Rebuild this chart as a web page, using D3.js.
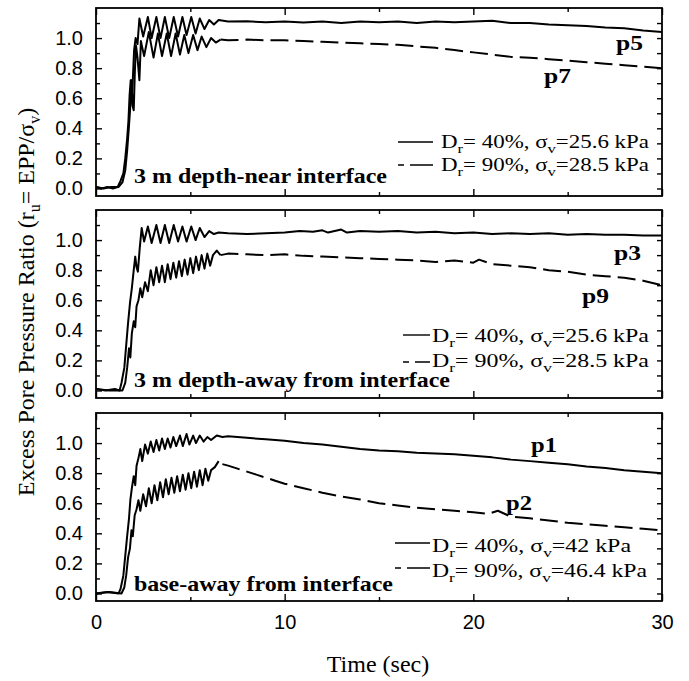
<!DOCTYPE html>
<html>
<head>
<meta charset="utf-8">
<script src="https://cdn.jsdelivr.net/npm/d3@7"></script>
<style>
  body { margin: 0; background: #fff; }
  svg { display: block; }
  .tick text { font-family: "Liberation Sans", Arial, sans-serif; font-size: 20px; fill: #000; }
  .tick line { stroke: #000; stroke-width: 1.4; }
</style>
</head>
<body>
<svg id="chart" width="689" height="681"></svg>
<script>
// time axis / ratio axis ticks
var xMajor = [0, 10, 20, 30];
var xMinor = [5, 15, 25];
var yMajor = [0.0, 0.2, 0.4, 0.6, 0.8, 1.0];
var yMinor = [0.1, 0.3, 0.5, 0.7, 0.9, 1.1];

// 3 m depth, near interface: p5 (Dr 40%), p7 (Dr 90%)
var p5 = [[0,0.01],[0.3,0.0],[0.6,0.01],[0.9,0.0],[1.15,0.01],[1.3,0.05],[1.45,0.1],[1.55,0.2],[1.65,0.33],
  [1.72,0.45],[1.78,0.62],[1.84,0.72],[1.9,0.6],[1.96,0.75],[2.02,0.92],[2.1,1.0],[2.2,0.96],[2.3,1.13],
  [2.5,1.01],[2.75,1.14],[2.95,1.0],[3.2,1.14],[3.42,1.0],[3.65,1.14],[3.88,1.0],[4.12,1.14],[4.35,1.01],
  [4.58,1.14],[4.8,1.02],[5.05,1.14],[5.28,1.03],[5.5,1.13],[5.75,1.06],[6.0,1.12],[6.25,1.09],[6.5,1.12],
  [7,1.11],[8,1.112],[9,1.105],[10,1.11],[11,1.104],[12,1.11],[13,1.1],[14,1.11],[15,1.105],[16,1.11],
  [17,1.1],[18,1.11],[19,1.105],[20,1.11],[21,1.115],[22,1.1],[23,1.1],[24,1.09],[25,1.085],[26,1.08],
  [27,1.07],[28,1.065],[29,1.05],[30,1.04]];
var p7 = [[0,0.01],[0.4,0.0],[0.8,0.01],[1.2,0.01],[1.4,0.04],[1.55,0.12],[1.65,0.25],[1.75,0.42],[1.82,0.55],
  [1.88,0.72],[1.94,0.55],[2.0,0.52],[2.06,0.78],[2.12,0.95],[2.2,0.87],[2.3,0.72],[2.38,0.98],[2.55,0.88],
  [2.8,1.04],[3.05,0.87],[3.28,1.03],[3.5,0.88],[3.75,1.03],[3.98,0.88],[4.22,1.03],[4.45,0.89],[4.68,1.02],
  [4.9,0.9],[5.15,1.02],[5.38,0.92],[5.6,1.01],[5.85,0.94],[6.1,1.0],[6.35,0.97],[6.6,0.99],[7,0.985],
  [8,0.99],[9,0.985],[10,0.985],[11,0.98],[12,0.975],[13,0.97],[14,0.965],[15,0.96],[16,0.955],[17,0.945],
  [18,0.935],[19,0.92],[20,0.905],[21,0.89],[22,0.875],[23,0.87],[24,0.86],[25,0.85],[26,0.84],[27,0.83],
  [28,0.82],[29,0.81],[30,0.8]];

// 3 m depth, away from interface: p3, p9
var p3 = [[0,0.01],[0.5,0.0],[1.0,0.01],[1.25,0.0],[1.35,0.05],[1.5,0.15],[1.6,0.3],[1.7,0.45],[1.8,0.58],
  [1.9,0.68],[2.0,0.8],[2.08,0.89],[2.15,0.82],[2.22,0.79],[2.32,0.95],[2.42,1.08],[2.55,0.99],[2.75,1.09],
  [2.95,0.98],[3.2,1.1],[3.42,0.98],[3.65,1.1],[3.88,0.98],[4.12,1.1],[4.35,0.99],[4.58,1.09],[4.8,0.99],
  [5.05,1.09],[5.28,1.0],[5.5,1.08],[5.75,1.02],[6.0,1.06],[6.25,1.04],[6.5,1.05],[7,1.045],[8,1.04],
  [9,1.045],[10,1.05],[10.8,1.06],[11.5,1.055],[12,1.065],[12.3,1.05],[13,1.07],[13.3,1.05],[14,1.06],
  [15,1.055],[16,1.06],[17,1.05],[18,1.055],[19,1.045],[20,1.05],[21,1.04],[22,1.045],[23,1.04],[24,1.045],
  [25,1.035],[26,1.04],[27,1.035],[28,1.035],[29,1.03],[30,1.03]];
var p9 = [[0,0.01],[0.7,0.0],[1.4,0.0],[1.55,0.05],[1.65,0.15],[1.75,0.28],[1.82,0.22],[1.9,0.38],[2.0,0.46],
  [2.08,0.42],[2.15,0.56],[2.25,0.6],[2.35,0.68],[2.45,0.62],[2.6,0.72],[2.75,0.66],[2.9,0.8],[3.05,0.7],
  [3.2,0.82],[3.35,0.72],[3.5,0.83],[3.65,0.72],[3.8,0.84],[3.95,0.74],[4.1,0.85],[4.25,0.75],[4.4,0.86],
  [4.55,0.76],[4.7,0.87],[4.85,0.77],[5.0,0.88],[5.15,0.78],[5.3,0.89],[5.45,0.8],[5.6,0.9],[5.75,0.81],
  [5.9,0.91],[6.05,0.83],[6.2,0.9],[6.4,0.93],[6.6,0.9],[7,0.91],[8,0.905],[9,0.9],[10,0.905],[11,0.895],
  [12,0.89],[13,0.885],[14,0.88],[15,0.875],[16,0.87],[17,0.865],[18,0.855],[19,0.865],[20,0.85],
  [20.3,0.87],[21,0.84],[22,0.83],[23,0.82],[24,0.8],[25,0.79],[26,0.77],[27,0.76],[28,0.75],[29,0.73],[30,0.7]];

// base, away from interface: p1, p2
var p1 = [[0,0.0],[0.6,0.01],[1.2,0.0],[1.3,0.03],[1.45,0.12],[1.55,0.25],[1.65,0.38],[1.75,0.5],[1.82,0.62],
  [1.9,0.7],[2.0,0.78],[2.08,0.72],[2.15,0.85],[2.25,0.9],[2.35,0.96],[2.45,0.88],[2.6,0.99],[2.75,0.93],
  [2.9,1.01],[3.05,0.94],[3.2,1.02],[3.35,0.95],[3.5,1.03],[3.65,0.96],[3.8,1.03],[3.95,0.97],[4.1,1.04],
  [4.25,0.98],[4.45,1.05],[4.6,0.98],[4.8,1.06],[4.95,0.99],[5.15,1.05],[5.3,1.0],[5.5,1.05],[5.7,1.01],
  [5.9,1.04],[6.1,1.02],[6.4,1.05],[6.7,1.04],[7,1.045],[8,1.035],[9,1.025],[10,1.015],[11,1.0],[12,0.99],
  [13,0.975],[14,0.96],[15,0.95],[16,0.945],[17,0.935],[18,0.93],[19,0.925],[20,0.915],[21,0.905],
  [22,0.89],[23,0.88],[24,0.87],[25,0.86],[26,0.845],[27,0.835],[28,0.82],[29,0.81],[30,0.8]];
var p2 = [[0,0.0],[0.7,0.01],[1.35,0.0],[1.5,0.04],[1.6,0.12],[1.7,0.24],[1.8,0.3],[1.88,0.42],[1.95,0.38],
  [2.05,0.52],[2.15,0.56],[2.25,0.62],[2.35,0.55],[2.5,0.66],[2.65,0.58],[2.8,0.7],[2.95,0.6],[3.1,0.72],
  [3.25,0.62],[3.4,0.74],[3.55,0.64],[3.7,0.76],[3.85,0.66],[4.0,0.77],[4.15,0.67],[4.3,0.78],[4.45,0.68],
  [4.6,0.79],[4.75,0.69],[4.9,0.8],[5.05,0.7],[5.2,0.81],[5.35,0.71],[5.5,0.82],[5.65,0.72],[5.8,0.83],
  [5.95,0.75],[6.1,0.82],[6.3,0.84],[6.5,0.88],[6.7,0.86],[7,0.85],[7.5,0.83],[8,0.81],[8.5,0.79],[9,0.77],
  [9.5,0.75],[10,0.73],[11,0.7],[12,0.67],[13,0.645],[14,0.625],[15,0.6],[16,0.585],[17,0.57],[18,0.56],
  [19,0.55],[20,0.54],[20.8,0.53],[21.3,0.55],[22,0.51],[23,0.5],[24,0.485],[25,0.47],[26,0.46],[27,0.45],
  [28,0.44],[29,0.43],[30,0.42]];

var panelTitles = ["3 m depth-near interface", "3 m depth-away from interface", "base-away from interface"];
var legendDr = [["40%", "90%"], ["40%", "90%"], ["40%", "90%"]];
var legendSv = [["25.6", "28.5"], ["25.6", "28.5"], ["42", "46.4"]];
var curveNames = [["p5", "p7"], ["p3", "p9"], ["p1", "p2"]];

var panels = [
  {solid: p5, dashed: p7, top: 8,   title: panelTitles[0], titleY: 183, titleW: 253,
   leg: {x0: 398, x1: 433, tx: 441, y: [142, 165], by: [148, 171], w: [208, 208]},
   lab: [{x: 616, y: 50, w: 27}, {x: 544, y: 83, w: 27}]},
  {solid: p3, dashed: p9, top: 210, title: panelTitles[1], titleY: 387, titleW: 316,
   leg: {x0: 403, x1: 430, tx: 432, y: [335, 362], by: [342, 367], w: [217, 217]},
   lab: [{x: 614, y: 260, w: 27}, {x: 582, y: 303, w: 27}]},
  {solid: p1, dashed: p2, top: 413, title: panelTitles[2], titleY: 591, titleW: 259,
   leg: {x0: 395, x1: 430, tx: 432, y: [543, 568], by: [552, 577], w: [199, 215]},
   lab: [{x: 531, y: 452, w: 26}, {x: 506, y: 510, w: 26}]}
];

var svg = d3.select("#chart");
var ph = 188;
var x = d3.scaleLinear().domain([0, 30]).range([96, 662]);
var serif = '"Liberation Serif", "Times New Roman", serif';
var tSplit = 6.6; // cyclic part is dense enough to read as a continuous trace

panels.forEach(function (p, i) {
  var y = d3.scaleLinear().domain([-0.05, 1.2]).range([p.top + ph, p.top]);
  var g = svg.append("g");

  // ticks, all pointing inward
  g.append("g").attr("transform", "translate(96,0)")
    .call(d3.axisLeft(y).tickValues(yMajor).tickSize(-6).tickPadding(13).tickFormat(d3.format(".1f")));
  g.append("g").attr("transform", "translate(96,0)")
    .call(d3.axisLeft(y).tickValues(yMinor).tickSize(-4).tickFormat(""));
  g.append("g").attr("transform", "translate(662,0)")
    .call(d3.axisRight(y).tickValues(yMajor.concat(yMinor)).tickSize(-5).tickFormat(""));
  g.append("g").attr("transform", "translate(0," + p.top + ")")
    .call(d3.axisTop(x).tickValues(xMajor).tickSize(-7).tickFormat(""));
  g.append("g").attr("transform", "translate(0," + p.top + ")")
    .call(d3.axisTop(x).tickValues(xMinor).tickSize(-4).tickFormat(""));
  g.append("g").attr("transform", "translate(0," + (p.top + ph) + ")")
    .call(d3.axisBottom(x).tickValues(xMajor).tickSize(-7).tickPadding(14)
      .tickFormat(i === 2 ? d3.format("d") : ""));
  g.append("g").attr("transform", "translate(0," + (p.top + ph) + ")")
    .call(d3.axisBottom(x).tickValues(xMinor).tickSize(-4).tickFormat(""));
  g.selectAll(".domain").remove();
  g.selectAll(".tick text").attr("fill", "#000");

  g.append("rect").attr("x", 96).attr("y", p.top).attr("width", 566).attr("height", ph)
    .attr("fill", "none").attr("stroke", "#000").attr("stroke-width", 1.8);

  var line = d3.line().x(function (d) { return x(d[0]); }).y(function (d) { return y(d[1]); });
  g.append("path").datum(p.solid).attr("d", line)
    .attr("fill", "none").attr("stroke", "#000").attr("stroke-width", 2).attr("stroke-linejoin", "round");
  g.append("path").datum(p.dashed.filter(function (d) { return d[0] <= tSplit; })).attr("d", line)
    .attr("fill", "none").attr("stroke", "#000").attr("stroke-width", 2).attr("stroke-linejoin", "round");
  g.append("path").datum(p.dashed.filter(function (d) { return d[0] >= tSplit; })).attr("d", line)
    .attr("fill", "none").attr("stroke", "#000").attr("stroke-width", 2).attr("stroke-linejoin", "round")
    .attr("stroke-dasharray", "18,7");

  // panel caption
  g.append("text").attr("x", 134).attr("y", p.titleY)
    .attr("font-family", serif).attr("font-weight", "bold").attr("font-size", 22)
    .attr("textLength", p.titleW).attr("lengthAdjust", "spacingAndGlyphs")
    .text(p.title);

  // legend
  var L = p.leg;
  [0, 1].forEach(function (k) {
    g.append("line").attr("x1", L.x0).attr("x2", L.x1).attr("y1", L.y[k]).attr("y2", L.y[k])
      .attr("stroke", "#000").attr("stroke-width", 1.4)
      .attr("stroke-dasharray", k === 0 ? null : "6,6,40");
    var t = g.append("text").attr("x", L.tx).attr("y", L.by[k])
      .attr("font-family", serif).attr("font-size", 18)
      .attr("textLength", L.w[k]).attr("lengthAdjust", "spacingAndGlyphs");
    t.append("tspan").text("D");
    t.append("tspan").attr("font-size", 13).attr("dy", 5).text("r");
    t.append("tspan").attr("dy", -5).text("= " + legendDr[i][k] + ", \u03c3");
    t.append("tspan").attr("font-size", 13).attr("dy", 5).text("v");
    t.append("tspan").attr("dy", -5).text("=" + legendSv[i][k] + " kPa");
  });

  // curve names
  p.lab.forEach(function (l, k) {
    g.append("text").attr("x", l.x).attr("y", l.y)
      .attr("font-family", serif).attr("font-weight", "bold").attr("font-size", 20)
      .attr("textLength", l.w).attr("lengthAdjust", "spacingAndGlyphs")
      .text(curveNames[i][k]);
  });
});

// axis titles
svg.append("text").attr("x", 378).attr("y", 672).attr("text-anchor", "middle")
  .attr("font-family", serif).attr("font-size", 24).text("Time (sec)");

var yt = svg.append("text").attr("transform", "translate(34,302) rotate(-90)")
  .attr("text-anchor", "middle").attr("font-family", serif).attr("font-size", 24);
yt.append("tspan").text("Excess Pore Pressure Ratio (r");
yt.append("tspan").attr("font-size", 16).attr("dy", 6).text("u");
yt.append("tspan").attr("dy", -6).text("= EPP/\u03c3");
yt.append("tspan").attr("font-size", 16).attr("dy", 6).text("v");
yt.append("tspan").attr("dy", -6).text(")");
</script>
</body>
</html>
